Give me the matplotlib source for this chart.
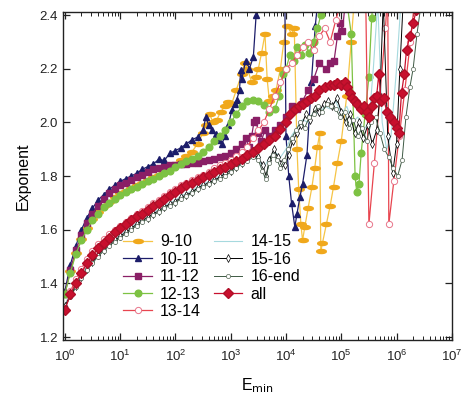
import numpy as np
import matplotlib
matplotlib.use("Agg")
import matplotlib.pyplot as plt
from matplotlib.ticker import FuncFormatter, NullFormatter, FixedLocator

plt.rcParams['font.family'] = ['Liberation Sans', 'DejaVu Sans']
plt.rcParams['mathtext.default'] = 'regular'

# log10(Emin) grid shared by the smooth low-energy part of every curve
grid = [0.0, 0.1, 0.2, 0.3, 0.4, 0.5, 0.6, 0.7, 0.8, 0.9, 1.0, 1.1, 1.2,
        1.3, 1.4, 1.5, 1.6, 1.7, 1.8, 1.9, 2.0, 2.1, 2.2, 2.3, 2.4]

# 9-10
lg_9_10 = grid + [2.5, 2.55, 2.62, 2.68, 2.75, 2.82, 2.9, 2.96, 3.02, 3.1, 3.2, 3.25, 3.3, 3.38, 3.45,
                  3.5, 3.56, 3.62, 3.66, 3.7, 3.76, 3.82, 3.9, 3.96, 4.02, 4.1, 4.15, 4.2, 4.23, 4.27,
                  4.3, 4.34, 4.4, 4.47, 4.52, 4.57, 4.61, 4.63, 4.66, 4.73, 4.8, 4.86, 4.93, 5.0, 5.1,
                  5.18, 5.25]
ex_9_10 = [1.365, 1.445, 1.515, 1.565, 1.605, 1.64, 1.665, 1.69, 1.705, 1.72, 1.735, 1.745, 1.755,
           1.765, 1.775, 1.785, 1.795, 1.805, 1.815, 1.83, 1.845, 1.86, 1.875, 1.89, 1.92,
           1.96, 1.99, 2.03, 2.0, 2.01, 2.04, 2.06, 2.075, 2.07, 2.12, 2.18, 2.22, 2.2, 2.15, 2.17,
           2.2, 2.26, 2.33, 2.16, 2.08, 2.1, 2.12, 2.2, 2.3, 2.36, 2.33, 2.35, 1.9, 1.75, 1.62,
           1.56, 1.61, 1.68, 1.76, 1.83, 1.91, 1.96, 1.52, 1.55, 1.62, 1.69, 1.76, 1.85, 1.93, 2.1,
           2.3, 2.5]

# 10-11
lg_10_11 = grid + [2.5, 2.55, 2.6, 2.66, 2.73, 2.79, 2.84, 2.9, 2.96, 3.02, 3.07, 3.11, 3.16, 3.18,
                   3.2, 3.27, 3.34, 3.41, 3.46, 3.7, 3.98, 4.0, 4.05, 4.1, 4.16, 4.2, 4.25, 4.3,
                   4.38, 4.46, 4.53, 4.6]
ex_10_11 = [1.37, 1.47, 1.54, 1.60, 1.645, 1.68, 1.71, 1.73, 1.75, 1.765, 1.78, 1.79, 1.80, 1.81,
            1.825, 1.835, 1.845, 1.862, 1.858, 1.885, 1.895, 1.905, 1.92, 1.935, 1.945,
            1.97, 2.02, 1.99, 1.97, 1.955, 1.935, 1.92, 1.95, 1.99, 2.045, 2.07, 2.085, 2.12, 2.195,
            2.16, 2.23, 2.2, 2.245, 2.4, 2.6, 2.45, 1.95, 1.80, 1.70, 1.61, 1.66, 1.72, 1.77,
            1.88, 2.15, 2.36, 2.5]

# 11-12
lg_11_12 = grid + [2.5, 2.6, 2.7, 2.8, 2.9, 3.0, 3.1, 3.2, 3.27, 3.33, 3.38, 3.42, 3.46, 3.5, 3.55,
                   3.62, 3.7, 3.8, 3.9, 4.0, 4.1, 4.2, 4.3, 4.4, 4.5, 4.6, 4.72, 4.8, 4.87, 4.93,
                   4.98, 5.02, 5.1]
ex_11_12 = [1.36, 1.45, 1.525, 1.58, 1.625, 1.66, 1.69, 1.715, 1.735, 1.75, 1.765, 1.775, 1.785,
            1.795, 1.805, 1.815, 1.825, 1.83, 1.835, 1.84, 1.84, 1.845, 1.845, 1.85, 1.85,
            1.855, 1.86, 1.865, 1.87, 1.875, 1.885, 1.90, 1.92, 1.94, 1.91, 1.95, 2.0, 2.01, 1.96,
            1.93, 1.97, 1.95, 1.97, 1.99, 2.02, 2.06, 2.05, 2.08, 2.12, 2.16, 2.22, 2.2, 2.22,
            2.23, 2.32, 2.37, 2.34, 2.5]

# 12-13
lg_12_13 = grid + [2.5, 2.6, 2.7, 2.8, 2.9, 3.0, 3.1, 3.2, 3.3, 3.4, 3.5, 3.6, 3.7, 3.8, 3.88,
                   3.95, 4.0, 4.07, 4.14, 4.2, 4.28, 4.35, 4.42, 4.5, 4.57, 4.63, 4.75, 5.1, 5.18,
                   5.25, 5.28, 5.32, 5.36, 5.43, 5.5, 5.55, 5.62]
ex_12_13 = [1.36, 1.44, 1.51, 1.56, 1.60, 1.635, 1.66, 1.685, 1.70, 1.715, 1.73, 1.74, 1.75, 1.76,
            1.77, 1.78, 1.79, 1.80, 1.81, 1.82, 1.835, 1.845, 1.855, 1.865, 1.875,
            1.89, 1.91, 1.93, 1.95, 1.97, 2.0, 2.03, 2.06, 2.08, 2.085, 2.08, 2.065, 2.04, 2.05,
            2.1, 2.18, 2.2, 2.25, 2.23, 2.28, 2.25, 2.29, 2.26, 2.3, 2.35, 2.4, 2.55, 2.45, 2.33,
            1.80, 1.74, 1.77, 1.885, 2.03, 2.17, 2.39, 2.55]

# 13-14
lg_13_14 = grid + [2.5, 2.6, 2.7, 2.8, 2.9, 3.0, 3.1, 3.2, 3.3, 3.4, 3.5, 3.6, 3.7, 3.8, 3.9,
                   4.0, 4.1, 4.2, 4.3, 4.4, 4.5, 4.6, 4.7, 4.8, 4.9, 5.0, 5.2, 5.44, 5.5, 5.6,
                   5.7, 5.8, 5.84, 5.86, 5.95, 6.05, 6.15, 6.25, 6.35]
ex_13_14 = [1.31, 1.37, 1.415, 1.455, 1.49, 1.52, 1.545, 1.565, 1.585, 1.60, 1.615, 1.63, 1.645,
            1.66, 1.67, 1.685, 1.70, 1.71, 1.725, 1.74, 1.75, 1.765, 1.775, 1.785, 1.795,
            1.805, 1.815, 1.83, 1.84, 1.85, 1.86, 1.875, 1.89, 1.91, 1.94, 1.97, 2.0, 2.05, 2.1,
            2.15, 2.2, 2.22, 2.25, 2.28, 2.3, 2.27, 2.32, 2.35, 2.3, 2.38, 2.45, 2.55, 2.5, 1.62,
            1.85, 2.1, 2.35, 2.5, 1.62, 1.78, 1.95, 2.12, 2.3, 2.5]

# 14-15
lg_14_15 = grid + [2.5, 2.6, 2.7, 2.8, 2.9, 3.0, 3.1, 3.2, 3.3, 3.4, 3.5, 3.6, 3.7, 3.8, 3.9,
                   4.0, 4.1, 4.2, 4.3, 4.4, 4.5, 4.6, 4.7, 4.8, 4.9, 5.0, 5.1, 5.2, 5.3, 5.4,
                   5.5, 5.58, 5.66, 5.74, 5.82, 5.9, 6.0, 6.08, 6.16]
ex_14_15 = [1.32, 1.36, 1.395, 1.43, 1.46, 1.485, 1.51, 1.53, 1.55, 1.565, 1.58, 1.595, 1.61,
            1.625, 1.64, 1.65, 1.665, 1.675, 1.69, 1.70, 1.71, 1.725, 1.735, 1.745, 1.76,
            1.77, 1.78, 1.79, 1.80, 1.81, 1.825, 1.84, 1.855, 1.87, 1.88, 1.86, 1.83, 1.87, 1.89,
            1.87, 1.9, 1.95, 1.98, 2.01, 2.0, 2.04, 2.03, 2.06, 2.05, 2.08, 2.03, 2.06, 2.0, 2.02,
            1.97, 2.0, 2.2, 2.45, 2.0, 1.9, 1.95, 2.2, 2.45, 2.5]

# 15-16
lg_15_16 = grid + [2.5, 2.6, 2.7, 2.8, 2.9, 3.0, 3.1, 3.2, 3.3, 3.4, 3.5, 3.58, 3.64, 3.7, 3.78,
                   3.85, 3.92, 3.98, 4.05, 4.12, 4.2, 4.28, 4.36, 4.44, 4.52, 4.6, 4.68, 4.76,
                   4.84, 4.92, 5.0, 5.08, 5.16, 5.24, 5.32, 5.4, 5.48, 5.56, 5.64, 5.7, 5.76,
                   5.84, 5.93, 6.0, 6.06, 6.12]
ex_15_16 = [1.315, 1.355, 1.39, 1.425, 1.455, 1.48, 1.505, 1.525, 1.545, 1.56, 1.575, 1.59, 1.605,
            1.62, 1.635, 1.645, 1.66, 1.67, 1.685, 1.695, 1.705, 1.72, 1.73, 1.74, 1.755,
            1.765, 1.775, 1.785, 1.795, 1.81, 1.82, 1.835, 1.85, 1.865, 1.88, 1.87, 1.84, 1.80,
            1.86, 1.9, 1.87, 1.85, 1.84, 1.88, 1.93, 1.96, 1.99, 2.03, 2.01, 2.05, 2.04, 2.07,
            2.08, 2.06, 2.09, 2.04, 2.0, 2.03, 1.96, 2.0, 1.94, 1.99, 1.92, 1.97, 2.1, 2.45, 1.95,
            1.81, 1.92, 2.2, 2.45]

# 16-end
lg_16_end = grid + [2.5, 2.6, 2.7, 2.8, 2.9, 3.0, 3.1, 3.2, 3.3, 3.4, 3.5, 3.57, 3.63, 3.7, 3.77,
                    3.84, 3.9, 3.97, 4.04, 4.1, 4.18, 4.26, 4.34, 4.42, 4.5, 4.58, 4.66, 4.74,
                    4.82, 4.9, 4.98, 5.06, 5.14, 5.22, 5.3, 5.38, 5.46, 5.54, 5.62, 5.7, 5.78,
                    5.86, 5.94, 6.02, 6.1, 6.17, 6.24, 6.3, 6.37, 6.45]
ex_16_end = [1.31, 1.35, 1.385, 1.42, 1.45, 1.475, 1.50, 1.52, 1.54, 1.555, 1.57, 1.585, 1.60,
             1.615, 1.63, 1.64, 1.655, 1.665, 1.68, 1.69, 1.70, 1.715, 1.725, 1.735, 1.75,
             1.76, 1.77, 1.78, 1.79, 1.80, 1.815, 1.83, 1.845, 1.855, 1.87, 1.86, 1.82, 1.79,
             1.85, 1.88, 1.86, 1.83, 1.86, 1.9, 1.94, 1.97, 2.0, 1.98, 2.02, 2.03, 2.06, 2.04,
             2.07, 2.06, 2.05, 2.02, 2.04, 1.98, 2.01, 1.95, 1.98, 1.93, 2.0, 2.02, 1.96, 1.9,
             1.87, 1.83, 1.80, 1.86, 2.02, 2.13, 2.2, 2.33, 2.45]

# all
lg_all = grid + [2.5, 2.6, 2.7, 2.8, 2.9, 3.0, 3.1, 3.2, 3.3, 3.4, 3.5, 3.6, 3.7, 3.8, 3.9, 4.0,
                 4.08, 4.16, 4.23, 4.3, 4.38, 4.45, 4.52, 4.6, 4.7, 4.8, 4.87, 4.93, 5.0, 5.06,
                 5.11, 5.16, 5.2, 5.25, 5.29, 5.35, 5.41, 5.46, 5.5, 5.55, 5.59, 5.64, 5.68, 5.72,
                 5.77, 5.82, 5.88, 5.95, 6.0, 6.04, 6.09, 6.14, 6.18, 6.24, 6.3, 6.36, 6.42]
ex_all = [1.30, 1.36, 1.40, 1.44, 1.475, 1.505, 1.53, 1.55, 1.57, 1.59, 1.605, 1.62, 1.635, 1.65,
          1.66, 1.675, 1.69, 1.70, 1.715, 1.73, 1.74, 1.755, 1.765, 1.775, 1.785,
          1.795, 1.805, 1.815, 1.825, 1.835, 1.845, 1.855, 1.865, 1.88, 1.89, 1.905, 1.92, 1.935,
          1.95, 1.975, 2.0, 2.03, 2.05, 2.06, 2.07, 2.08, 2.09, 2.10, 2.12, 2.13, 2.14, 2.14,
          2.145, 2.14, 2.15, 2.13, 2.11, 2.09, 2.08, 2.07, 2.05, 2.06, 2.04, 2.02, 2.06, 2.09,
          2.10, 2.18, 2.08, 2.09, 2.04, 2.02, 2.0, 1.98, 1.96, 2.11, 2.18, 2.27, 2.32, 2.37,
          2.42, 2.5]

# flattened ellipse used for the 9-10 markers
t = np.linspace(0, 2 * np.pi, 25)
ellipse = list(zip(np.cos(t), 0.42 * np.sin(t)))

series = [
    ('9-10', lg_9_10, ex_9_10, dict(color='#F6C445', marker=ellipse, ms=7, mfc='#F0A81C', mec='#F0A81C', lw=0.9)),
    ('10-11', lg_10_11, ex_10_11, dict(color='#1C1D6A', marker='^', ms=4.5, lw=0.9)),
    ('11-12', lg_11_12, ex_11_12, dict(color='#8A1F66', marker='s', ms=4.2, lw=0.9)),
    ('12-13', lg_12_13, ex_12_13, dict(color='#7DC243', marker='o', ms=4.8, lw=0.9)),
    ('13-14', lg_13_14, ex_13_14, dict(color='#E8454F', marker='o', ms=4.5, mfc='white', mec='#E8758A', mew=0.7, lw=0.9)),
    ('14-15', lg_14_15, ex_14_15, dict(color='#A6D9DE', marker=None, lw=0.8)),
    ('15-16', lg_15_16, ex_15_16, dict(color='black', marker='d', ms=3.6, mfc='white', mec='black', mew=0.5, lw=0.7)),
    ('16-end', lg_16_end, ex_16_end, dict(color='#3E5A44', marker='o', ms=3, mfc='white', mec='#556655', mew=0.5, lw=0.7)),
    ('all', lg_all, ex_all, dict(color='#C8102E', marker='D', ms=4.8, mfc='#C8102E', mec='#B00E28', lw=0.9)),
]

fig = plt.figure(figsize=(4.62, 3.97), dpi=100)
ax = fig.add_axes([0.136, 0.1436, 0.842, 0.826])

for label, lg, ex, style in series:
    ax.plot(10 ** np.array(lg), ex, label=label, **style)

ax.set_xscale('log')
ax.set_xlim(0.92, 1e7)
ax.set_ylim(1.189, 2.411)

decades = [1e0, 1e1, 1e2, 1e3, 1e4, 1e5, 1e6, 1e7]
ax.xaxis.set_major_locator(FixedLocator(decades))
ax.xaxis.set_minor_locator(FixedLocator([m * d for d in decades[:-1] for m in range(2, 10)]))
ax.xaxis.set_minor_formatter(NullFormatter())
ax.xaxis.set_major_formatter(FuncFormatter(lambda v, p: r'$10^{%d}$' % round(np.log10(v))))
ax.yaxis.set_major_locator(FixedLocator([1.2, 1.4, 1.6, 1.8, 2.0, 2.2, 2.4]))
ax.yaxis.set_major_formatter(FuncFormatter(lambda v, p: '%.1f' % v))

ax.tick_params(which='both', direction='in', top=True, right=True, labelsize=9.5, colors='#222222')
ax.tick_params(which='major', length=5, width=0.9)
ax.tick_params(which='minor', length=3, width=0.7)
ax.tick_params(axis='x', which='major', pad=6)
for sp in ax.spines.values():
    sp.set_linewidth(1.0)
    sp.set_color('#222222')

ax.set_ylabel('Exponent', fontsize=11.5, labelpad=6)
ax.set_xlabel(r'E$_{\mathrm{min}}$', fontsize=11.5, labelpad=9)

ax.legend(ncol=2, loc='upper left', bbox_to_anchor=(0.155, 0.322), frameon=False,
          fontsize=11.5, handlelength=1.8, handletextpad=0.5, columnspacing=0.8,
          labelspacing=0.15, borderpad=0, borderaxespad=0, numpoints=1)

fig.savefig('out.png', dpi=100)
